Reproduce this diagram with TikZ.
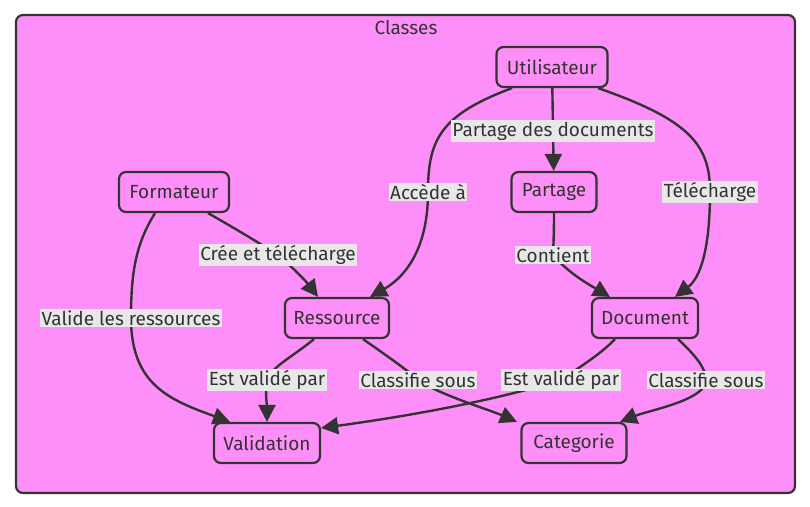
\documentclass[tikz,border=0pt]{standalone}
\usepackage{fontspec}
\setmainfont{Fira Sans}
\usetikzlibrary{arrows.meta}
\definecolor{pinkf}{HTML}{FF8FF8}
\definecolor{ink}{HTML}{333333}
\definecolor{lblbg}{HTML}{E8E8E8}
\begin{document}
\begin{tikzpicture}[x=1pt,y=-1pt,
  font=\fontsize{19}{22}\selectfont,
  box/.style={draw=ink, line width=2.2pt, fill=pinkf, rounded corners=7pt, text=ink, minimum height=40pt, inner sep=0pt},
  edge/.style={draw=ink, line width=2.4pt, -{Triangle[length=17pt,width=17pt]}},
  lbl/.style={fill=lblbg, text=ink, inner sep=1.5pt}]
\useasboundingbox (0,0) rectangle (810,506);
\draw[ink, line width=2.2pt, fill=pinkf, rounded corners=7pt] (16,15) rectangle (795,493);
\node[text=ink] (title) at (406,27) {Classes};

\node[box, minimum width=111pt] (u) at (552,67) {Utilisateur};
\node[box, minimum width=110pt] (f) at (174,192) {Formateur};
\node[box, minimum width=85pt] (p) at (554,192) {Partage};
\node[box, minimum width=104pt] (r) at (337,318) {Ressource};
\node[box, minimum width=106pt] (d) at (645,318) {Document};
\node[box, minimum width=106pt] (v) at (267,443) {Validation};
\node[box, minimum width=105pt] (c) at (574,443) {Categorie};

\draw[edge] ([xshift=-40pt]u.south) .. controls (440,115) and (428,140) .. (428,192) node[lbl]{Accède à}
  .. controls (428,255) and (400,280) .. ([xshift=33pt]r.north);
\draw[edge] (u) -- node[lbl, yshift=-1.5pt]{Partage des documents} (p);
\draw[edge] ([xshift=46pt]u.south) .. controls (690,120) and (710,145) .. (710,192) node[lbl]{Télécharge}
  .. controls (710,250) and (700,278) .. ([xshift=30pt]d.north);
\draw[edge] ([xshift=34pt]f.south) .. controls (250,237) and (270,250) .. (278,255) node[lbl]{Crée et télécharge}
  .. controls (290,265) and (305,280) .. ([xshift=-19pt]r.north);
\draw[edge] ([xshift=-19pt]f.south) .. controls (135,245) and (131,275) .. (131,318) node[lbl]{Valide les ressources}
  .. controls (131,385) and (170,400) .. ([xshift=-37pt]v.north);
\draw[edge] (p.south) .. controls (554,240) and (553,250) .. (553,255) node[lbl]{Contient}
  .. controls (570,275) and (595,288) .. ([xshift=-35pt]d.north);
\draw[edge] ([xshift=-23pt]r.south) .. controls (295,355) and (270,368) .. (267,380) node[lbl]{Est validé par}
  .. controls (265,395) and (267,405) .. (v.north);
\draw[edge] ([xshift=26pt]r.south) .. controls (390,358) and (410,372) .. (418,380) node[lbl]{Classifie sous}
  .. controls (440,395) and (490,410) .. ([xshift=-57pt]c.north);
\draw[edge] ([xshift=-30pt]d.south) .. controls (600,355) and (575,370) .. (561,380) node[lbl]{Est validé par}
  .. controls (480,405) and (380,420) .. ([yshift=15pt]v.east);
\draw[edge] ([xshift=33pt]d.south) .. controls (695,355) and (706,368) .. (706,380) node[lbl]{Classifie sous}
  .. controls (706,400) and (650,410) .. ([xshift=46pt]c.north);
\end{tikzpicture}
\end{document}
